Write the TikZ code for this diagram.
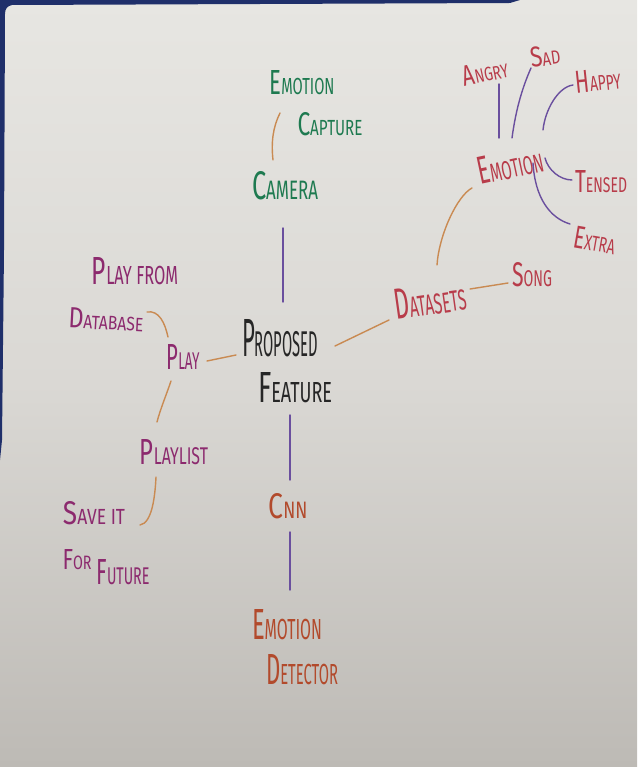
\documentclass[tikz,border=0pt]{standalone}
\usepackage{fontspec}
\setmainfont{Fira Sans}
\usepackage{graphicx}
% handwritten-style word: large first letter, small capitals after it,
% squeezed into a box of given width and height (in pt)
\newcommand\hand[4]{\resizebox{#1pt}{#2pt}{\fontsize{15}{15}\selectfont #3\fontsize{10}{10}\selectfont #4}}
\definecolor{paperA}{HTML}{E7E6E2}
\definecolor{paperB}{HTML}{DAD8D4}
\definecolor{paperC}{HTML}{BDBAB5}
\definecolor{board}{HTML}{1F2F6A}
\definecolor{cgreen}{HTML}{1E7A50}
\definecolor{cblack}{HTML}{262626}
\definecolor{corange}{HTML}{B24A2C}
\definecolor{cmagenta}{HTML}{8C2A6E}
\definecolor{cred}{HTML}{B83C4A}
\definecolor{lpurple}{HTML}{6A4F9E}
\definecolor{lorange}{HTML}{C98A52}
\begin{document}
\begin{tikzpicture}[x=1pt,y=-1pt,
  lbl/.style={inner sep=0pt},
  gr/.style={lbl,text=cgreen},
  bk/.style={lbl,text=cblack},
  org/.style={lbl,text=corange},
  mg/.style={lbl,text=cmagenta},
  rd/.style={lbl,text=cred},
  pl/.style={draw=lpurple,line width=1.4pt,line cap=round},
  ol/.style={draw=lorange,line width=1.4pt,line cap=round}]
\useasboundingbox (0,0) rectangle (637,767);
% paper sheet
\shade[top color=paperA,bottom color=paperC,middle color=paperB] (0,0) rectangle (637,767);
% board edge behind the sheet
\fill[board] (0,0) -- (520,0) -- (510,3) -- (12,5) .. controls (7,6) and (5,9) .. (5,14)
  -- (4,250) -- (2,440) -- (0,460) -- cycle;

% central topic
\node[bk] (prop) at (280,338) {\hand{76}{37}{P}{ROPOSED}};
\node[bk] (feat) at (295,388) {\hand{74}{30}{F}{EATURE}};

% capture branch
\node[gr] (emo1) at (302,83) {\hand{65}{24}{E}{MOTION}};
\node[gr] (cap) at (330,124) {\hand{65}{23}{C}{APTURE}};
\node[gr] (cam) at (285,186) {\hand{66}{28}{C}{AMERA}};

% detector branch
\node[org] (cnn) at (288,506) {\hand{39}{25}{C}{NN}};
\node[org] (det1) at (287,625) {\hand{70}{30}{E}{MOTION}};
\node[org] (det2) at (302,670) {\hand{72}{30}{D}{ETECTOR}};

% play branch
\node[mg] (play) at (183,357) {\hand{33}{25}{P}{LAY}};
\node[mg] (pf) at (135,271) {\hand{86}{27}{P}{LAY FROM}};
\node[mg,rotate=-3] (db) at (106,320) {\hand{75}{20}{D}{ATABASE}};
\node[mg] (plist) at (174,452) {\hand{68}{25}{P}{LAYLIST}};
\node[mg] (save) at (94,513) {\hand{62}{23}{S}{AVE IT}};
\node[mg] (for) at (77,560) {\hand{29}{20}{F}{OR}};
\node[mg] (fut) at (123,572) {\hand{53}{25}{F}{UTURE}};

% dataset branch
\node[rd,rotate=8] (ds) at (430,300) {\hand{72}{30}{D}{ATASETS}};
\node[rd] (song) at (532,275) {\hand{40}{24}{S}{ONG}};
\node[rd,rotate=12] (emo) at (510,165) {\hand{66}{27}{E}{MOTION}};
\node[rd,rotate=12] (angry) at (485,72) {\hand{46}{20}{A}{NGRY}};
\node[rd,rotate=8] (sad) at (545,56) {\hand{30}{20}{S}{AD}};
\node[rd,rotate=6] (happy) at (598,80) {\hand{45}{22}{H}{APPY}};
\node[rd] (tensed) at (601,182) {\hand{52}{22}{T}{ENSED}};
\node[rd,rotate=-10] (extra) at (595,240) {\hand{42}{22}{E}{XTRA}};

% purple connectors
\draw[pl] ([shift={(-2,42)}]cam.center) -- ([shift={(3,-36)}]prop.center);
\draw[pl] ([shift={(-5,27)}]feat.center) -- ([shift={(2,-26)}]cnn.center);
\draw[pl] ([shift={(2,26)}]cnn.center) -- ([shift={(3,-35)}]det1.center);
\draw[pl] ([shift={(-11,-27)}]emo.center) -- ([shift={(14,12)}]angry.center);
\draw[pl] ([shift={(2,-27)}]emo.center) .. controls +(4,-30) and +(-8,18) .. ([shift={(-14,12)}]sad.center);
\draw[pl] ([shift={(33,-35)}]emo.center) .. controls +(2,-20) and +(-15,2) .. ([shift={(-25,5)}]happy.center);
\draw[pl] ([shift={(35,-7)}]emo.center) .. controls +(3,12) and +(-12,0) .. ([shift={(-29,-2)}]tensed.center);
\draw[pl] ([shift={(23,-2)}]emo.center) .. controls +(2,35) and +(-20,-6) .. ([shift={(-25,-16)}]extra.center);

% orange connectors
\draw[ol] ([shift={(-22,30)}]emo1.center) .. controls +(-7,14) and +(-2,-18) .. ([shift={(-12,-26)}]cam.center);
\draw[ol] ([shift={(41,-8)}]db.center) .. controls +(12,-2) and +(-3,-14) .. ([shift={(-15,-20)}]play.center);
\draw[ol] ([shift={(24,4)}]play.center) -- ([shift={(-44,17)}]prop.center);
\draw[ol] ([shift={(-12,24)}]play.center) .. controls +(-4,12) and +(3,-12) .. ([shift={(-17,-30)}]plist.center);
\draw[ol] ([shift={(-18,25)}]plist.center) .. controls +(-1,20) and +(12,-2) .. ([shift={(46,12)}]save.center);
\draw[ol] ([shift={(55,8)}]prop.center) -- ([shift={(-41,20)}]ds.center);
\draw[ol] ([shift={(40,-11)}]ds.center) -- ([shift={(-24,8)}]song.center);
\draw[ol] ([shift={(7,-35)}]ds.center) .. controls +(2,-30) and +(-15,8) .. ([shift={(-38,23)}]emo.center);
\end{tikzpicture}
\end{document}
